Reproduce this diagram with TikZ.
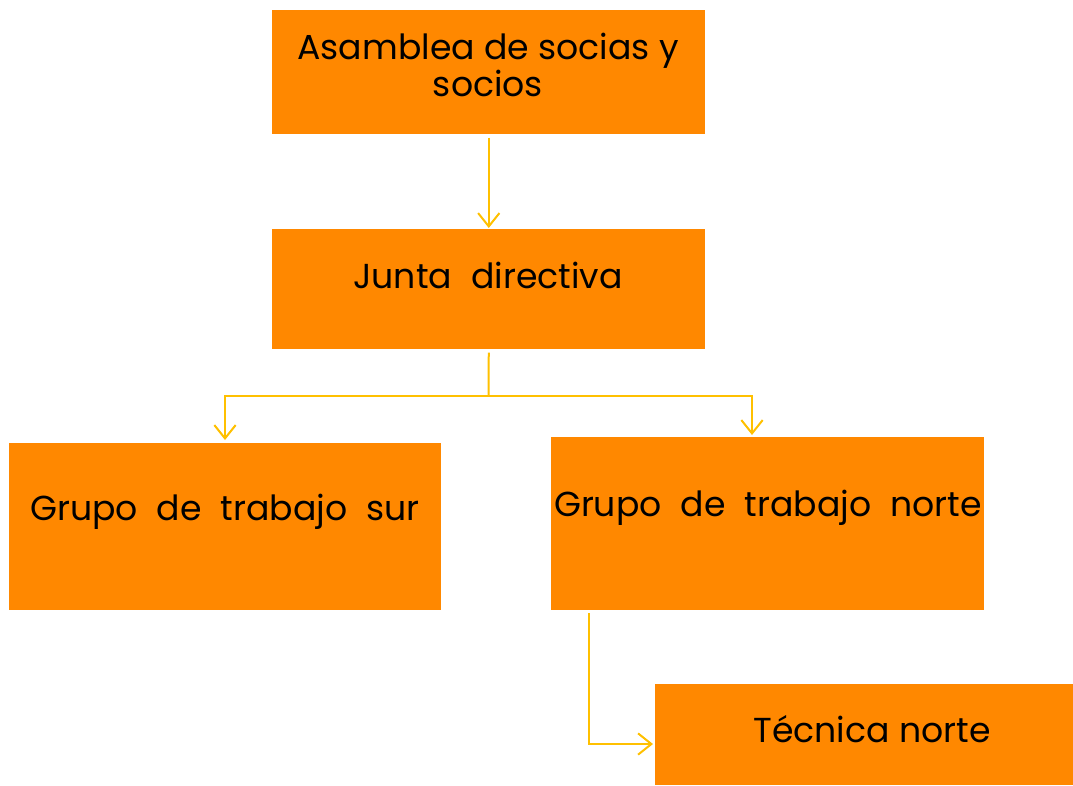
\documentclass[tikz,border=0pt]{standalone}
\usepackage{fontspec}
\setmainfont{Poppins}
\usetikzlibrary{arrows.meta}
\definecolor{boxor}{HTML}{FF8800}
\definecolor{linky}{HTML}{FFC000}
\begin{document}
\begin{tikzpicture}[x=0.75pt,y=-0.75pt,
  orgbox/.style={fill=boxor,draw=none,inner sep=0pt,anchor=north west},
  lbl/.style={font=\fontsize{26pt}{28pt}\selectfont,text=black,align=center,inner sep=0pt},
  widesp/.style={execute at begin node={\spaceskip=0.55em plus 0.1em\relax}},
  conn/.style={draw=linky,line width=1.5pt,-{Straight Barb[length=10pt,width=16pt,line width=1.5pt]}}]
\useasboundingbox (0,0) rectangle (1073,785);
\node[orgbox,minimum width=433*0.75pt,minimum height=124*0.75pt] (A) at (272,10) {};
\node[orgbox,minimum width=433*0.75pt,minimum height=120*0.75pt] (B) at (272,229) {};
\node[orgbox,minimum width=432*0.75pt,minimum height=167*0.75pt] (C) at (9,443) {};
\node[orgbox,minimum width=433*0.75pt,minimum height=173*0.75pt] (D) at (551,437) {};
\node[orgbox,minimum width=418*0.75pt,minimum height=101*0.75pt] (E) at (655,684) {};
\node[lbl] (tA) at (488,65) {Asamblea de socias y\\socios};
\node[lbl,widesp] (tB) at (488,275) {Junta directiva};
\node[lbl,widesp] (tC) at (225,512) {Grupo de trabajo sur};
\node[lbl,widesp] (tD) at (768,508) {Grupo de trabajo norte};
\node[lbl] (tE) at (872,729) {Técnica norte};
\coordinate (bA) at ([yshift=-3*0.75pt]A.south);
\coordinate (jB) at ([yshift=-3*0.75pt]B.south);
\coordinate (split) at (488.5,396);
\coordinate (cTop) at (225,440);
\coordinate (dTop) at (752,435);
\coordinate (dOut) at (589,613);
\coordinate (eIn) at (653,744);
\draw[conn] (bA) -- ([yshift=1*0.75pt]B.north);
\draw[draw=linky,line width=1.5pt] (jB) -- (split);
\draw[conn] (split) -| (cTop);
\draw[conn] (split) -| (dTop);
\draw[conn] (dOut) |- (eIn);
\end{tikzpicture}
\end{document}
